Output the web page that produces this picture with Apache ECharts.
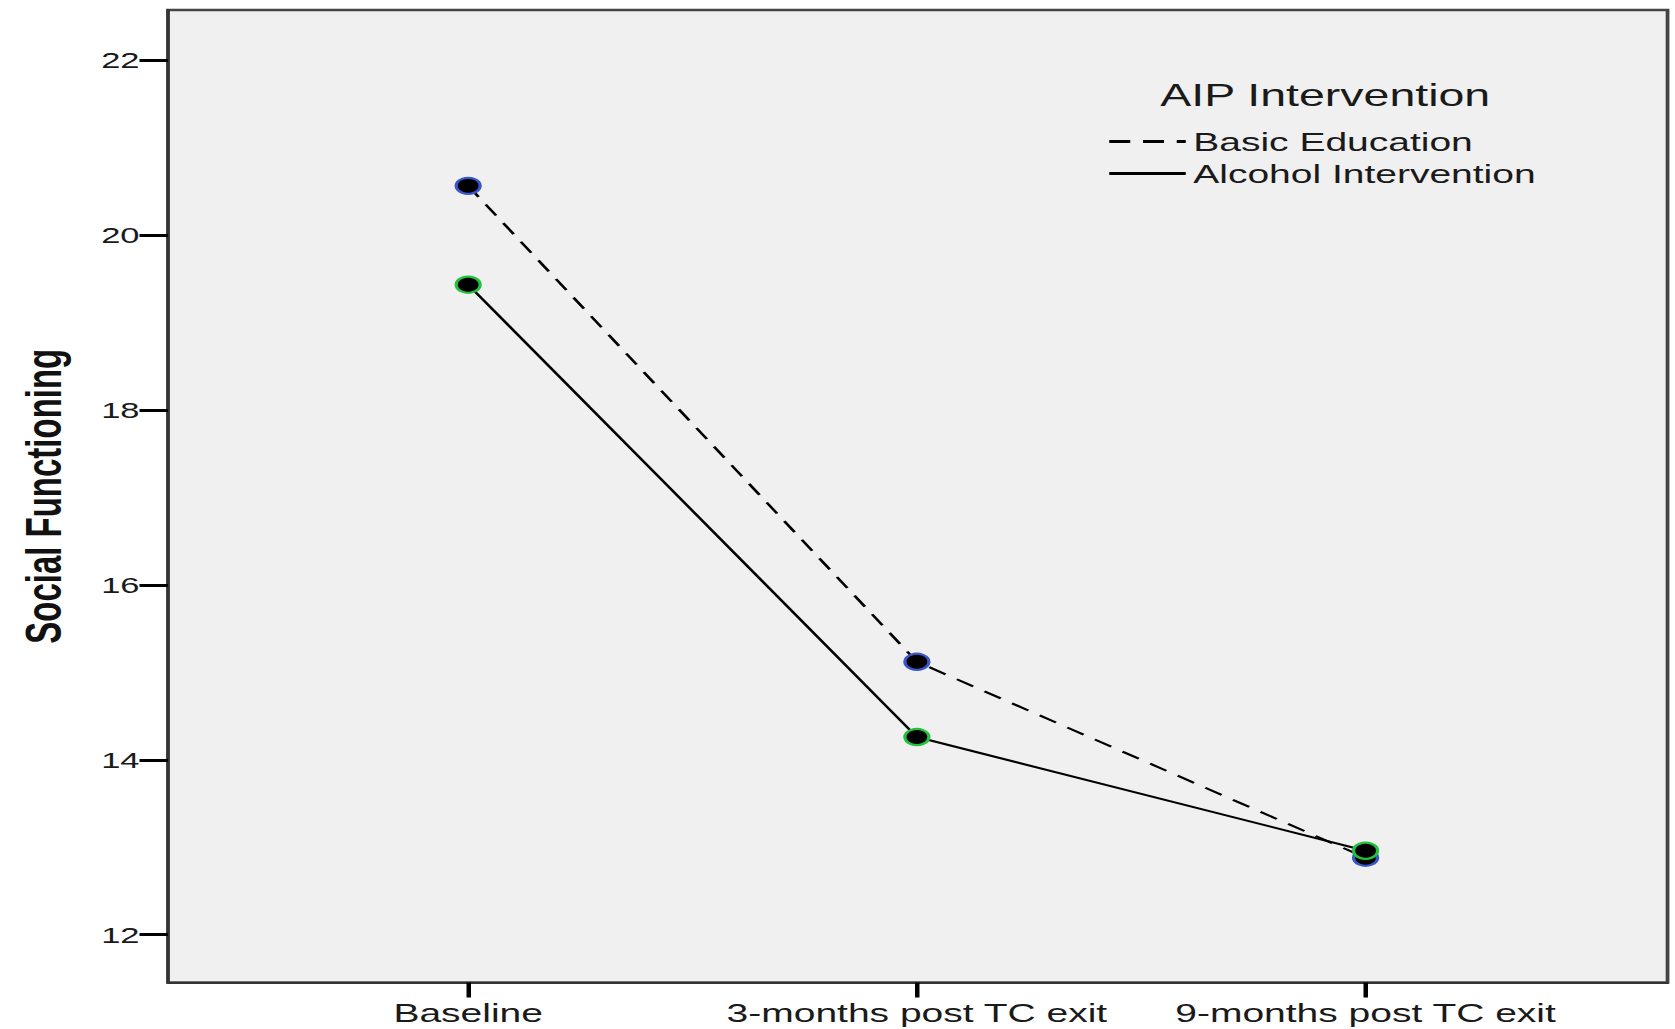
<!DOCTYPE html>
<html>
<head>
<meta charset="utf-8">
<script src="https://cdn.jsdelivr.net/npm/echarts@6/dist/echarts.min.js"></script>
<style>
  html, body { margin: 0; padding: 0; background: #ffffff; overflow: hidden; }
  #wrap { width: 1675px; height: 1029px; overflow: hidden; }
  #chart { width: 1116.667px; height: 1029px; transform: scaleX(1.5); transform-origin: 0 0; }
</style>
</head>
<body>
<div id="wrap"><div id="chart"></div></div>
<script>
// ---- data ----
const categories = ['Baseline', '3-months post TC exit', '9-months post TC exit'];
const basicEducation = [20.56, 15.12, 12.88];
const alcoholIntervention = [19.43, 14.26, 12.96];
const yTicks = [12, 14, 16, 18, 20, 22];
const legendTitle = 'AIP Intervention';
const yAxisName = 'Social Functioning';

const FONT = '"Liberation Sans", Arial, Helvetica, sans-serif';

function toPairs(arr) { return arr.map((v, i) => [i, v]); }

const chart = echarts.init(document.getElementById('chart'), null, { renderer: 'svg' });

chart.setOption({
  backgroundColor: '#ffffff',
  animation: false,
  title: {
    text: legendTitle,
    left: 878.5,
    top: 75,
    textAlign: 'center',
    textStyle: { fontFamily: FONT, fontSize: 31, fontWeight: 'normal', color: '#1a1a1a' }
  },
  legend: {
    orient: 'vertical',
    left: 738,
    top: 128.5,
    padding: 0,
    itemWidth: 51,
    itemHeight: 25,
    itemGap: 6,
    itemStyle: { opacity: 0 },
    textStyle: { fontFamily: FONT, fontSize: 26, color: '#1a1a1a', lineHeight: 25 },
    data: [
      { name: 'Basic Education', lineStyle: { width: 3, type: [14, 8.5] } },
      { name: 'Alcohol Intervention', lineStyle: { width: 3, type: 'solid' } }
    ]
  },
  grid: {
    left: 112,
    right: 5.3,
    top: 10,
    bottom: 46.5,
    show: true,
    backgroundColor: '#f0f0f0',
    borderColor: '#444444',
    borderWidth: 2.5
  },
  xAxis: {
    type: 'value',
    min: -0.669,
    max: 2.673,
    splitLine: { show: false },
    axisLine: { show: true, onZero: false, lineStyle: { color: '#333333', width: 2 } },
    axisTick: { show: true, customValues: [0, 1, 2], length: 15, lineStyle: { color: '#000000', width: 3 } },
    axisLabel: {
      customValues: [0, 1, 2],
      margin: 17,
      fontFamily: FONT,
      fontSize: 26,
      color: '#1a1a1a',
      formatter: v => categories[Math.round(v)] || ''
    }
  },
  yAxis: {
    type: 'value',
    min: 11.454,
    max: 22.57,
    name: yAxisName,
    nameLocation: 'middle',
    nameGap: 66,
    nameRotate: 90,
    nameTextStyle: { fontFamily: FONT, fontSize: 33, fontWeight: 'bold', color: '#111111' },
    splitLine: { show: false },
    axisLine: { show: true, onZero: false, lineStyle: { color: '#333333', width: 2 } },
    axisTick: { show: true, customValues: yTicks, length: 19, lineStyle: { color: '#000000', width: 3 } },
    axisLabel: {
      customValues: yTicks,
      margin: 19,
      fontFamily: FONT,
      fontSize: 23,
      color: '#1a1a1a'
    }
  },
  series: [
    {
      name: 'Basic Education',
      type: 'line',
      data: toPairs(basicEducation),
      symbol: 'circle',
      symbolSize: 16,
      lineStyle: { color: '#000000', width: 2, type: [13, 9] },
      itemStyle: { color: '#000000', borderColor: '#3a56c8', borderWidth: 2.2 },
      emphasis: { disabled: true }
    },
    {
      name: 'Alcohol Intervention',
      type: 'line',
      data: toPairs(alcoholIntervention),
      symbol: 'circle',
      symbolSize: 16,
      lineStyle: { color: '#000000', width: 2, type: 'solid' },
      itemStyle: { color: '#000000', borderColor: '#22c23a', borderWidth: 2.2 },
      emphasis: { disabled: true }
    }
  ]
});
</script>
</body>
</html>
